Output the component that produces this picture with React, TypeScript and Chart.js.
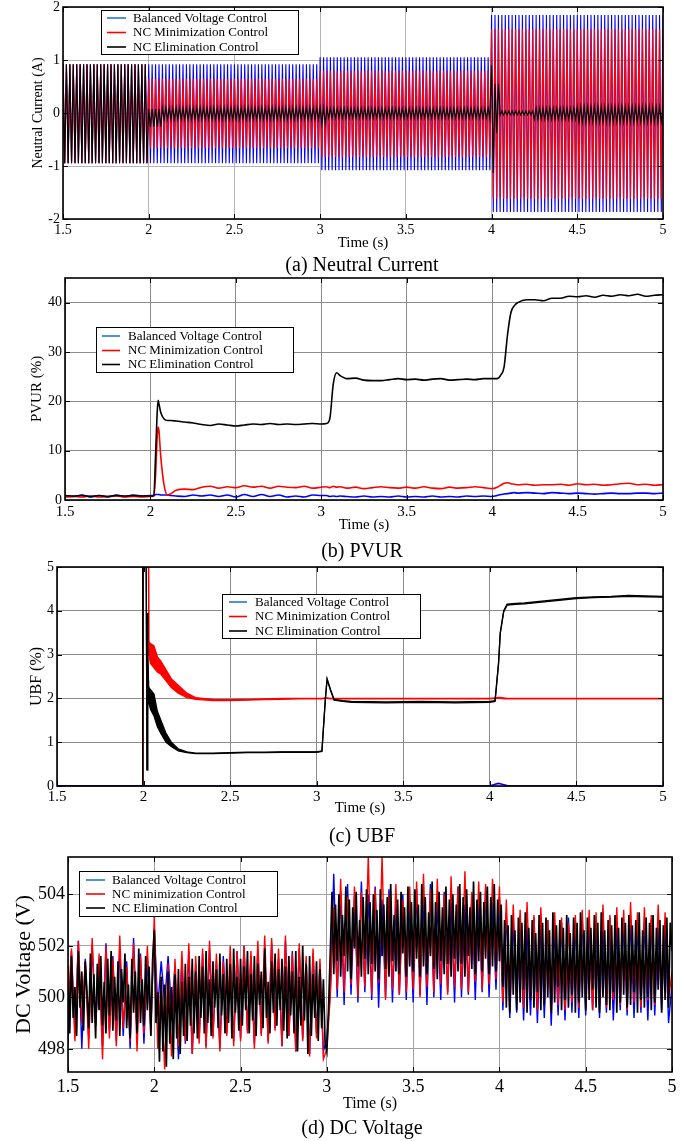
import React, { useEffect, useRef } from 'react';
import { Chart, registerables } from 'chart.js';

Chart.register(...registerables);

const FONT = "'Liberation Serif', 'Times New Roman', Times, serif";
const PAGE_W = 689;
const BLUE = '#0000ff';
const RED = '#ff0000';
const BLACK = '#000000';
const LEGEND_COLORS = ['#1f78d6', '#ff0000', '#000000'];

// ---------- shared ----------
const timeTicks = [1.5, 2, 2.5, 3, 3.5, 4, 4.5, 5];
const legendNames = ['Balanced Voltage Control', 'NC Minimization Control', 'NC Elimination Control'];
const legendNamesDc = ['Balanced Voltage Control', 'NC minimization Control', 'NC Elimination Control'];

// ---------- (a) Neutral Current : 50 Hz oscillation, peaks read per segment ----------
const ncTicks = [-2, -1, 0, 1, 2];
const ncHalfPeriod = 0.01;
const ncBalancedStart = [1.5, 2.0, 3.0, 4.0];
const ncBalancedPeak = [0.92, 0.92, 1.05, 1.85];
const ncBalancedTrough = [-0.95, -0.95, -1.08, -1.87];
const ncMinStart = [1.5, 2.0, 3.0, 4.0];
const ncMinPeak = [0.92, 0.64, 0.79, 1.58];
const ncMinTrough = [-0.95, -0.66, -0.83, -1.62];
const ncElimStart = [1.5, 2.0, 2.08, 3.0, 3.04, 4.0, 4.02, 4.05, 4.25, 4.5];
const ncElimPeak = [0.92, 0.08, 0.1, 0.1, 0.09, 0.9, 0.55, 0.04, 0.09, 0.12];
const ncElimTrough = [-0.95, -0.26, -0.12, -0.2, -0.1, -1.13, -0.38, -0.04, -0.12, -0.17];

// ---------- (b) PVUR ----------
const pvurTicks = [0, 10, 20, 30, 40];
const pvurTime = [1.5, 1.55, 1.6, 1.65, 1.7, 1.75, 1.8, 1.85, 1.9, 1.95, 2.0,
  2.02, 2.03, 2.04, 2.045, 2.05, 2.06, 2.08, 2.1, 2.12, 2.15,
  2.2, 2.25, 2.3, 2.35, 2.4, 2.45, 2.5, 2.55, 2.6, 2.65, 2.7, 2.75, 2.8, 2.85, 2.9, 2.95, 3.0,
  3.03, 3.05, 3.07, 3.09, 3.11, 3.15,
  3.2, 3.25, 3.3, 3.35, 3.4, 3.45, 3.5, 3.55, 3.6, 3.65, 3.7, 3.75, 3.8, 3.85, 3.9, 3.95, 4.0,
  4.03, 4.05, 4.07, 4.09, 4.11, 4.13, 4.15,
  4.2, 4.25, 4.3, 4.35, 4.4, 4.45, 4.5, 4.55, 4.6, 4.65, 4.7, 4.75, 4.8, 4.85, 4.9, 4.95, 5.0];
const pvurBalanced = [0.9, 0.7, 1.0, 0.6, 0.9, 0.6, 1.0, 0.7, 1.0, 0.8, 0.9,
  0.9, 1.1, 1.1, 1.1, 1.1, 1.0, 1.0, 1.0, 0.9, 0.8,
  0.7, 1.0, 0.8, 1.0, 0.7, 1.0, 0.6, 1.1, 0.7, 1.1, 0.7, 1.0, 0.6, 0.8, 0.6, 1.0, 0.9,
  0.9, 0.7, 0.8, 0.7, 0.8, 0.7,
  0.6, 0.8, 0.6, 0.7, 0.6, 0.8, 0.6, 0.7, 0.6, 0.8, 0.6, 0.7, 0.6, 0.8, 0.7, 0.8, 0.7,
  0.9, 1.1, 1.2, 1.3, 1.4, 1.5, 1.4,
  1.5, 1.4, 1.3, 1.5, 1.4, 1.3, 1.4, 1.3, 1.2, 1.3, 1.4, 1.3, 1.3, 1.4, 1.4, 1.3, 1.4];
const pvurMin = [0.6, 0.7, 0.6, 0.8, 0.6, 0.7, 0.8, 0.6, 0.7, 0.6, 0.7,
  0.8, 5.0, 13.0, 14.8, 14.0, 9.0, 3.0, 1.0, 1.3, 2.0,
  2.2, 2.1, 2.6, 2.8, 2.4, 2.7, 2.5, 2.9, 2.6, 2.8, 2.4, 2.8, 2.6, 2.5, 2.8, 2.4, 2.6,
  2.7, 2.5, 2.8, 2.6, 2.7, 2.4,
  2.6, 2.3, 2.5, 2.7, 2.5, 2.4, 2.6, 2.4, 2.7, 2.4, 2.3, 2.6, 2.4, 2.5, 2.7, 2.5, 2.3,
  2.6, 3.0, 3.4, 3.5, 3.3, 3.2, 3.1,
  3.2, 3.0, 3.1, 3.1, 3.2, 3.0, 3.3, 3.1, 3.2, 3.0, 3.1, 3.3, 3.4, 3.1, 3.2, 3.0, 3.1];
const pvurElim = [0.9, 0.8, 0.9, 0.7, 0.9, 0.7, 0.9, 0.8, 0.9, 0.8, 0.8,
  0.9, 9.0, 18.0, 20.2, 19.5, 17.8, 16.4, 16.1, 16.1, 16.0,
  15.8, 15.6, 15.3, 15.1, 15.4, 15.2, 15.0, 15.2, 15.4, 15.3, 15.5, 15.3, 15.4, 15.3, 15.4, 15.5, 15.4,
  15.5, 16.5, 23.5, 25.8, 25.2, 24.6,
  24.7, 24.3, 24.2, 24.2, 24.4, 24.6, 24.4, 24.5, 24.3, 24.5, 24.6, 24.3, 24.4, 24.5, 24.4, 24.6, 24.6,
  24.6, 25.3, 27.0, 33.5, 38.0, 39.4, 40.0,
  40.6, 40.6, 40.4, 40.9, 40.9, 41.3, 41.2, 41.4, 41.1, 41.5, 41.3, 41.6, 41.4, 41.7, 41.3, 41.5, 41.6];

// ---------- (c) UBF (upper / lower edges of the oscillating band) ----------
const ubfTicks = [0, 1, 2, 3, 4, 5];
const ubfTime = [1.5, 1.75, 1.995, 2.0, 2.02, 2.022, 2.025, 2.03, 2.04, 2.06,
  2.08, 2.1, 2.13, 2.16, 2.2, 2.25, 2.3, 2.4, 2.5, 2.6,
  2.7, 2.8, 2.9, 3.0, 3.03, 3.05, 3.06, 3.08, 3.1, 3.15,
  3.2, 3.4, 3.6, 3.8, 4.0, 4.03, 4.05, 4.06, 4.08, 4.1,
  4.15, 4.2, 4.3, 4.4, 4.5, 4.6, 4.7, 4.8, 4.9, 5.0];
const ubfBalanced = [0, 0, 0, 0, 0, 0, 0, 0, 0, 0,
  0, 0, 0, 0, 0, 0, 0, 0, 0, 0,
  0, 0, 0, 0, 0, 0, 0, 0, 0, 0,
  0, 0, 0, 0, 0, 0.04, 0.06, 0.05, 0.03, 0.01,
  0, 0, 0, 0, 0, 0, 0, 0, 0, 0];
const ubfMinUpper = [0, 0, 0, 20, 20, 20, 20, 3.3, 3.25, 3.2,
  2.95, 2.85, 2.65, 2.45, 2.3, 2.12, 2.02, 1.98, 1.97, 1.98,
  1.99, 2.0, 2.0, 2.0, 2.0, 2.01, 2.01, 2.0, 2.0, 2.0,
  2.0, 2.0, 2.0, 2.0, 2.0, 2.01, 2.02, 2.02, 2.01, 2.0,
  2.0, 2.0, 2.0, 2.0, 2.0, 2.0, 2.0, 2.0, 2.0, 2.0];
const ubfMinLower = [0, 0, 0, 20, 20, 20, 20, 3.0, 2.8, 2.7,
  2.6, 2.55, 2.4, 2.25, 2.12, 2.02, 1.98, 1.95, 1.95, 1.96,
  1.97, 1.98, 1.99, 1.99, 1.99, 2.0, 2.0, 1.99, 1.99, 1.99,
  1.99, 1.99, 1.99, 1.99, 1.99, 2.0, 2.0, 2.0, 1.99, 1.99,
  1.99, 1.99, 1.99, 1.99, 1.99, 1.99, 1.99, 1.99, 1.99, 1.99];
const ubfElimUpper = [0, 0, 0, 20, 0.37, 3.95, 3.0, 2.25, 2.2, 2.1,
  1.7, 1.5, 1.2, 1.0, 0.85, 0.78, 0.75, 0.75, 0.76, 0.77,
  0.77, 0.78, 0.78, 0.78, 0.8, 2.0, 2.45, 2.2, 1.98, 1.95,
  1.93, 1.92, 1.93, 1.92, 1.93, 1.95, 2.8, 3.5, 4.0, 4.15,
  4.17, 4.18, 4.22, 4.26, 4.3, 4.32, 4.33, 4.35, 4.34, 4.33];
const ubfElimLower = [0, 0, 0, 20, 0.37, 3.95, 3.0, 1.9, 1.75, 1.6,
  1.35, 1.2, 1.0, 0.9, 0.8, 0.76, 0.74, 0.74, 0.75, 0.76,
  0.76, 0.77, 0.77, 0.77, 0.79, 1.98, 2.43, 2.18, 1.96, 1.93,
  1.91, 1.9, 1.91, 1.9, 1.91, 1.93, 2.78, 3.48, 3.98, 4.13,
  4.15, 4.16, 4.2, 4.24, 4.28, 4.3, 4.31, 4.33, 4.32, 4.31];

// ---------- (d) DC Voltage ----------
const dcTicks = [498, 500, 502, 504];
const dcStep = 0.02;      // blue / red samples
const dcElimStep = 0.01;  // black samples
const dcBalanced = [
  498.2, 501.8, 498.6, 502.2, 498.0, 501.5, 498.4, 502.0, 498.9, 501.3, 498.1, 502.1, 498.7, 501.6, 498.3, 501.9, 498.5, 501.4, 498.0, 502.3, 498.6, 501.7, 498.2, 501.5, 498.8,
  502.7, 499.6, 501.4, 499.8, 501.6, 499.5, 501.2, 497.6, 501.5, 498.2, 501.8, 497.8, 501.3, 498.4, 501.7, 498.1, 501.9, 498.5, 501.4, 498.0, 501.6, 498.6, 501.2, 498.3, 501.8,
  498.4, 502.0, 498.7, 501.6, 498.2, 501.9, 498.6, 501.7, 498.3, 502.1, 498.8, 501.5, 498.1, 502.2, 498.5, 501.8, 497.9, 501.9, 498.4, 501.4, 497.8, 501.7, 498.6, 501.3, 497.9,
  498.4, 500.2, 504.8, 500.0, 504.1, 499.7, 504.4, 500.1, 503.9, 499.8, 504.5, 500.2, 504.0, 499.9, 504.3, 499.6, 503.8, 500.0, 504.2, 499.8, 503.6, 500.1, 504.0, 499.9, 503.8,
  499.8, 504.2, 500.1, 503.9, 499.7, 504.4, 500.0, 503.7, 499.9, 504.1, 500.2, 503.8, 499.8, 504.3, 500.0, 503.6, 500.1, 504.0, 499.9, 503.8, 500.2, 504.2, 500.0, 503.7, 500.3,
  503.9, 499.5, 503.3, 499.2, 503.0, 499.4, 503.2, 499.1, 502.8, 499.3, 503.1, 499.0, 502.9, 499.2, 503.0, 498.9, 502.7, 499.3, 502.9, 499.1, 503.1, 499.4, 502.8, 499.2, 503.0,
  499.3, 502.9, 499.5, 503.0, 499.2, 502.8, 499.4, 503.1, 499.1, 502.7, 499.5, 502.9, 499.3, 503.0, 499.2, 502.8, 499.4, 502.9, 499.1, 503.0, 499.3, 502.7, 499.5, 502.9, 499.0,
  500.5];
const dcMin = [
  499.5, 501.9, 498.3, 502.2, 499.0, 501.4, 498.0, 502.3, 498.9, 501.7, 497.6, 502.0, 498.4, 501.5, 498.1, 502.4, 498.8, 501.2, 498.3, 502.1, 497.9, 501.6, 498.6, 502.0, 498.5,
  503.2, 498.0, 500.8, 497.2, 501.3, 497.7, 501.5, 498.1, 501.8, 498.3, 502.1, 497.8, 501.6, 498.2, 501.9, 498.0, 502.2, 498.4, 501.7, 497.9, 501.4, 498.5, 502.0, 498.1, 501.8,
  498.3, 502.0, 498.6, 501.8, 498.0, 502.2, 498.5, 502.4, 498.2, 502.3, 498.7, 501.9, 498.1, 502.4, 498.5, 501.7, 497.9, 502.1, 498.3, 501.6, 497.7, 501.9, 498.4, 501.5, 497.6,
  498.0, 500.1, 503.5, 500.3, 504.6, 500.2, 503.9, 500.5, 504.3, 500.0, 504.1, 500.4, 505.5, 500.1, 504.2, 500.6, 505.5, 499.9, 504.0, 500.3, 504.4, 500.1, 503.8, 500.2, 504.3,
  500.3, 504.5, 500.0, 504.8, 500.4, 504.2, 500.2, 504.6, 500.5, 504.0, 500.1, 504.7, 500.4, 504.3, 500.3, 504.9, 500.2, 504.1, 500.6, 504.5, 500.3, 504.4, 500.5, 504.6, 500.7,
  504.3, 499.8, 503.8, 499.5, 503.6, 499.9, 503.4, 499.6, 503.7, 500.0, 503.2, 499.5, 503.5, 499.8, 503.0, 499.4, 503.3, 499.7, 503.1, 499.5, 502.9, 499.8, 503.2, 499.6, 503.4,
  499.7, 503.4, 499.5, 503.3, 499.8, 503.6, 499.6, 503.2, 499.9, 503.5, 499.7, 503.4, 499.5, 503.7, 499.8, 503.3, 499.6, 503.5, 499.9, 503.2, 499.7, 503.6, 499.8, 503.3, 499.9,
  501.0];
const dcElim = [
  501.2, 498.6, 501.6, 499.2, 500.4, 498.5, 501.8, 499.6, 501.0, 498.7, 501.4, 500.2, 498.8, 501.7, 499.0, 500.9, 498.4, 501.3, 499.5, 501.6, 498.9, 500.6, 498.6, 501.5, 499.3,
  501.8, 498.7, 500.8, 499.1, 501.4, 498.5, 501.1, 499.8, 501.7, 498.8, 500.5, 498.4, 501.5, 499.4, 501.0, 498.6, 501.9, 499.0, 500.7, 498.9, 501.6, 499.5, 501.2, 498.5, 501.4,
  502.6, 499.0, 500.2, 497.5, 500.8, 497.9, 500.5, 497.3, 501.0, 498.2, 500.4, 497.6, 500.9, 498.4, 501.1, 497.8, 500.6, 498.5, 501.3, 498.3, 500.8, 498.9, 501.5, 498.6, 501.0,
  498.4, 501.6, 499.2, 501.2, 498.6, 501.8, 499.0, 500.7, 498.5, 501.4, 499.6, 501.1, 498.8, 501.7, 499.3, 500.9, 498.6, 501.5, 499.0, 501.3, 498.4, 501.9, 499.4, 500.8, 498.7,
  501.5, 498.9, 501.2, 499.5, 501.8, 498.6, 500.9, 499.1, 501.6, 498.5, 501.3, 499.7, 501.0, 498.8, 501.9, 499.2, 500.6, 498.6, 501.4, 499.4, 501.7, 498.9, 501.1, 499.5, 501.5,
  498.7, 501.2, 498.4, 501.6, 499.3, 501.0, 498.6, 501.8, 497.9, 500.8, 498.9, 502.0, 499.1, 501.3, 497.8, 501.6, 498.5, 500.9, 499.2, 501.4, 498.3, 501.1, 498.8, 500.7, 498.2,
  497.9, 499.6, 501.8, 504.1, 500.9, 503.6, 501.4, 504.0, 500.8, 503.2, 501.6, 504.3, 501.0, 503.8, 500.7, 503.5, 501.9, 504.1, 501.2, 503.0, 500.8, 503.9, 501.5, 504.2, 500.9,
  503.7, 501.3, 504.0, 501.0, 503.4, 500.7, 504.2, 501.6, 503.6, 501.1, 503.9, 500.8, 504.4, 501.4, 503.2, 501.0, 503.8, 500.9, 504.1, 501.7, 503.5, 500.8, 504.3, 501.2, 503.7,
  501.0, 504.2, 501.5, 503.6, 500.8, 504.4, 501.2, 503.9, 500.9, 503.3, 501.6, 504.5, 501.1, 503.7, 500.7, 504.1, 501.4, 503.5, 500.9, 504.3, 501.3, 503.8, 500.8, 504.0, 501.5,
  503.6, 501.0, 504.4, 501.3, 503.9, 500.8, 504.2, 501.6, 503.5, 501.1, 504.5, 500.9, 503.8, 501.4, 504.1, 501.0, 503.7, 501.5, 504.3, 500.9, 503.9, 501.2, 504.4, 501.0, 503.8,
  501.4, 503.6, 500.4, 503.0, 499.6, 502.8, 499.4, 503.2, 500.1, 502.6, 499.5, 503.1, 499.8, 502.9, 500.3, 503.3, 499.4, 502.7, 499.9, 503.0, 499.6, 502.5, 500.2, 503.2, 499.5,
  502.9, 499.7, 503.1, 500.0, 502.6, 499.4, 503.3, 499.8, 502.8, 500.4, 503.0, 499.5, 502.7, 499.9, 503.2, 499.6, 502.5, 500.1, 503.1, 499.4, 502.9, 499.8, 503.3, 500.0, 502.6,
  499.5, 503.1, 499.9, 502.7, 500.3, 503.2, 499.6, 502.9, 499.4, 503.3, 500.0, 502.6, 499.7, 503.0, 499.5, 502.8, 500.2, 503.2, 499.4, 502.7, 499.8, 503.1, 500.1, 502.9, 499.6,
  503.2, 499.7, 502.8, 500.2, 503.0, 499.4, 503.3, 499.9, 502.6, 499.6, 503.1, 500.0, 502.9, 499.5, 503.2, 499.8, 502.7, 500.3, 503.0, 499.4, 502.8, 499.9, 503.1, 499.6, 502.9,
  501.8];

// ---------- helpers ----------
type Pt = { x: number; y: number };

function pairs(xs: number[], ys: number[]): Pt[] {
  return ys.map((y, i) => ({ x: xs[i], y }));
}

function segmentValue(t: number, starts: number[], vals: number[]): number {
  let v = vals[0];
  for (let i = 0; i < starts.length; i++) if (t >= starts[i] - 1e-9) v = vals[i];
  return v;
}

// alternating peak / trough at each half period, using the read segment peaks
function oscillation(starts: number[], peaks: number[], troughs: number[]): Pt[] {
  const n = Math.round((5 - 1.5) / ncHalfPeriod);
  const out: Pt[] = [];
  for (let k = 0; k <= n; k++) {
    const t = 1.5 + k * ncHalfPeriod;
    out.push({ x: t, y: k % 2 === 0 ? segmentValue(t, starts, peaks) : segmentValue(t, starts, troughs) });
  }
  return out;
}

function sampled(values: number[], step: number): Pt[] {
  return values.map((y, i) => ({ x: 1.5 + i * step, y }));
}

// ---------- frame + legend plugin ----------
const framePlugin = {
  id: 'matlabFrame',
  afterDatasetsDraw(chart: any, _args: any, opts: any) {
    const { ctx, chartArea: a } = chart;
    const xs = chart.scales.x;
    const ys = chart.scales.y;
    ctx.save();
    ctx.strokeStyle = '#000';
    ctx.lineWidth = 1;
    const tl = 5;
    ctx.beginPath();
    for (const v of opts.xTicks) {
      const px = Math.round(xs.getPixelForValue(v)) + 0.5;
      ctx.moveTo(px, a.bottom);
      ctx.lineTo(px, a.bottom - tl);
      ctx.moveTo(px, a.top);
      ctx.lineTo(px, a.top + tl);
    }
    for (const v of opts.yTicks) {
      const py = Math.round(ys.getPixelForValue(v)) + 0.5;
      ctx.moveTo(a.left, py);
      ctx.lineTo(a.left + tl, py);
      ctx.moveTo(a.right, py);
      ctx.lineTo(a.right - tl, py);
    }
    ctx.stroke();
    ctx.lineWidth = 1.6;
    ctx.strokeRect(a.left, a.top, a.right - a.left, a.bottom - a.top);

    const lg = opts.legend;
    const off = opts.offsetTop;
    ctx.fillStyle = '#fff';
    ctx.fillRect(lg.x, lg.y - off, lg.w, lg.h);
    ctx.lineWidth = 1;
    ctx.strokeStyle = '#000';
    ctx.strokeRect(lg.x + 0.5, lg.y - off + 0.5, lg.w, lg.h);
    ctx.font = `${lg.fontSize}px ${FONT}`;
    ctx.textBaseline = 'middle';
    ctx.textAlign = 'left';
    lg.labels.forEach((label: string, i: number) => {
      const y = lg.rows[i] - off;
      ctx.strokeStyle = LEGEND_COLORS[i];
      ctx.lineWidth = 1.6;
      ctx.beginPath();
      ctx.moveTo(lg.lineX0, y);
      ctx.lineTo(lg.lineX1, y);
      ctx.stroke();
      ctx.fillStyle = '#000';
      ctx.fillText(label, lg.textX, y + 0.5);
    });
    ctx.restore();
  },
};

// ---------- panels ----------
type PanelCfg = {
  top: number;
  bottom: number;
  area: { l: number; r: number; t: number; b: number };
  yMin: number;
  yMax: number;
  yTicks: number[];
  yTitle: string;
  yTitleFont: number;
  yTitleX: number;
  tickFont: number;
  xTickFont: number;
  xTickPad: number;
  xTitleFont: number;
  xTitleY: number;
  grid: string;
  legend: any;
  datasets: any[];
  caption: string;
  captionY: number;
};

const plainLabel = (v: any) => String(v);

function buildChart(canvas: HTMLCanvasElement, cfg: PanelCfg) {
  const xTitleLh = cfg.xTitleFont * 1.2;
  const yTitleLh = cfg.yTitleFont * 1.2;
  return new Chart(canvas, {
    type: 'line',
    data: { datasets: cfg.datasets },
    options: {
      animation: false,
      responsive: false,
      maintainAspectRatio: false,
      devicePixelRatio: 1,
      events: [],
      layout: { padding: { left: 0, right: PAGE_W - cfg.area.r, top: cfg.area.t - cfg.top, bottom: 0 } },
      elements: { point: { radius: 0 } },
      plugins: {
        legend: { display: false },
        tooltip: { enabled: false },
        matlabFrame: { xTicks: timeTicks, yTicks: cfg.yTicks, legend: cfg.legend, offsetTop: cfg.top },
      } as any,
      scales: {
        x: {
          type: 'linear',
          min: 1.5,
          max: 5,
          afterBuildTicks: (s: any) => { s.ticks = timeTicks.map((v) => ({ value: v })); },
          afterFit: (s: any) => { s.height = cfg.bottom - cfg.area.b; },
          grid: { color: cfg.grid, lineWidth: 1, drawTicks: false },
          border: { display: false },
          ticks: { color: '#000', font: { family: FONT, size: cfg.xTickFont }, padding: cfg.xTickPad, maxRotation: 0, autoSkip: false, callback: plainLabel },
          title: {
            display: true,
            text: 'Time (s)',
            color: '#000',
            font: { family: FONT, size: cfg.xTitleFont },
            padding: { top: 0, bottom: cfg.bottom - cfg.xTitleY - xTitleLh / 2 },
          },
        },
        y: {
          type: 'linear',
          min: cfg.yMin,
          max: cfg.yMax,
          afterBuildTicks: (s: any) => { s.ticks = cfg.yTicks.map((v) => ({ value: v })); },
          afterFit: (s: any) => { s.width = cfg.area.l; },
          grid: { color: cfg.grid, lineWidth: 1, drawTicks: false },
          border: { display: false },
          ticks: { color: '#000', font: { family: FONT, size: cfg.tickFont }, padding: 3, callback: plainLabel },
          title: {
            display: true,
            text: cfg.yTitle,
            color: '#000',
            font: { family: FONT, size: cfg.yTitleFont },
            padding: { top: cfg.yTitleX - yTitleLh / 2, bottom: 0 },
          },
        },
      },
    },
    plugins: [framePlugin],
  } as any);
}

function line(data: Pt[], color: string, width: number, order: number, extra: any = {}) {
  return { data, borderColor: color, backgroundColor: color, borderWidth: width, order, pointRadius: 0, fill: false, tension: 0, ...extra };
}

const panels: PanelCfg[] = [
  {
    top: -5, bottom: 256,
    area: { l: 63, r: 663, t: 7, b: 219 },
    yMin: -2, yMax: 2, yTicks: ncTicks,
    yTitle: 'Neutral Current (A)', yTitleFont: 14, yTitleX: 38,
    tickFont: 14, xTickFont: 14, xTickPad: 3, xTitleFont: 15, xTitleY: 243,
    grid: '#b4b4b4',
    legend: { x: 101, y: 10, w: 197, h: 44, rows: [18, 32.5, 47], lineX0: 107, lineX1: 126, textX: 133, fontSize: 13, labels: legendNames },
    datasets: [
      line(oscillation(ncBalancedStart, ncBalancedPeak, ncBalancedTrough), BLUE, 1.1, 3),
      line(oscillation(ncMinStart, ncMinPeak, ncMinTrough), RED, 1.1, 2),
      line(oscillation(ncElimStart, ncElimPeak, ncElimTrough), BLACK, 1.1, 1),
    ],
    caption: '(a) Neutral Current', captionY: 264,
  },
  {
    top: 262, bottom: 536,
    area: { l: 65, r: 663, t: 278, b: 500 },
    yMin: 0, yMax: 45, yTicks: pvurTicks,
    yTitle: 'PVUR (%)', yTitleFont: 15, yTitleX: 37,
    tickFont: 14, xTickFont: 15, xTickPad: 3, xTitleFont: 15, xTitleY: 525,
    grid: '#8c8c8c',
    legend: { x: 96, y: 327, w: 197, h: 45, rows: [336, 350.5, 364.5], lineX0: 102, lineX1: 120, textX: 128, fontSize: 13, labels: legendNames },
    datasets: [
      line(pairs(pvurTime, pvurBalanced), BLUE, 1.6, 3, { cubicInterpolationMode: 'monotone' }),
      line(pairs(pvurTime, pvurMin), RED, 1.6, 2, { cubicInterpolationMode: 'monotone' }),
      line(pairs(pvurTime, pvurElim), BLACK, 1.6, 1, { cubicInterpolationMode: 'monotone' }),
    ],
    caption: '(b) PVUR', captionY: 550,
  },
  {
    top: 550, bottom: 820,
    area: { l: 57, r: 663, t: 567, b: 786 },
    yMin: 0, yMax: 5, yTicks: ubfTicks,
    yTitle: 'UBF (%)', yTitleFont: 16, yTitleX: 37,
    tickFont: 14, xTickFont: 15, xTickPad: 2, xTitleFont: 15, xTitleY: 808,
    grid: '#8c8c8c',
    legend: { x: 222, y: 594, w: 198, h: 44, rows: [602, 616.5, 631], lineX0: 229, lineX1: 247, textX: 255, fontSize: 13, labels: legendNames },
    datasets: [
      line(pairs(ubfTime, ubfBalanced), BLUE, 1.6, 0),
      line(pairs(ubfTime, ubfMinUpper), RED, 1.3, 3),
      line(pairs(ubfTime, ubfMinLower), RED, 1.3, 4, { fill: '-1' }),
      line(pairs(ubfTime, ubfElimUpper), BLACK, 1.3, 1),
      line(pairs(ubfTime, ubfElimLower), BLACK, 1.3, 2, { fill: '-1' }),
    ],
    caption: '(c) UBF', captionY: 835,
  },
  {
    top: 840, bottom: 1118,
    area: { l: 68, r: 672, t: 857, b: 1072 },
    yMin: 497.1, yMax: 505.45, yTicks: dcTicks,
    yTitle: 'DC Voltage (V)', yTitleFont: 22, yTitleX: 24,
    tickFont: 18, xTickFont: 18, xTickPad: 4, xTitleFont: 16, xTitleY: 1104,
    grid: '#a0a0a0',
    legend: { x: 79, y: 871, w: 198, h: 45, rows: [880, 894, 908], lineX0: 86, lineX1: 105, textX: 112, fontSize: 13, labels: legendNamesDc },
    datasets: [
      line(sampled(dcBalanced, dcStep), BLUE, 1.4, 3),
      line(sampled(dcMin, dcStep), RED, 1.4, 2),
      line(sampled(dcElim, dcElimStep), BLACK, 1.7, 1),
    ],
    caption: '(d) DC Voltage', captionY: 1127,
  },
];

function Panel({ cfg }: { cfg: PanelCfg }) {
  const ref = useRef<HTMLCanvasElement>(null);
  useEffect(() => {
    if (!ref.current) return;
    const chart = buildChart(ref.current, cfg);
    return () => chart.destroy();
  }, [cfg]);
  const H = cfg.bottom - cfg.top;
  return (
    <>
      <canvas
        ref={ref}
        width={PAGE_W}
        height={H}
        style={{ position: 'absolute', left: 0, top: cfg.top, width: PAGE_W, height: H }}
      />
      <div
        style={{
          position: 'absolute',
          left: 162,
          width: 400,
          top: cfg.captionY - 10,
          textAlign: 'center',
          fontFamily: FONT,
          fontSize: 20,
          lineHeight: '20px',
          whiteSpace: 'nowrap',
          color: '#000',
        }}
      >
        {cfg.caption}
      </div>
    </>
  );
}

export default function App() {
  return (
    <div style={{ position: 'absolute', left: 0, top: 0, width: PAGE_W, height: 1141, overflow: 'hidden', background: '#fff' }}>
      {panels.map((p, i) => (
        <Panel key={i} cfg={p} />
      ))}
    </div>
  );
}
